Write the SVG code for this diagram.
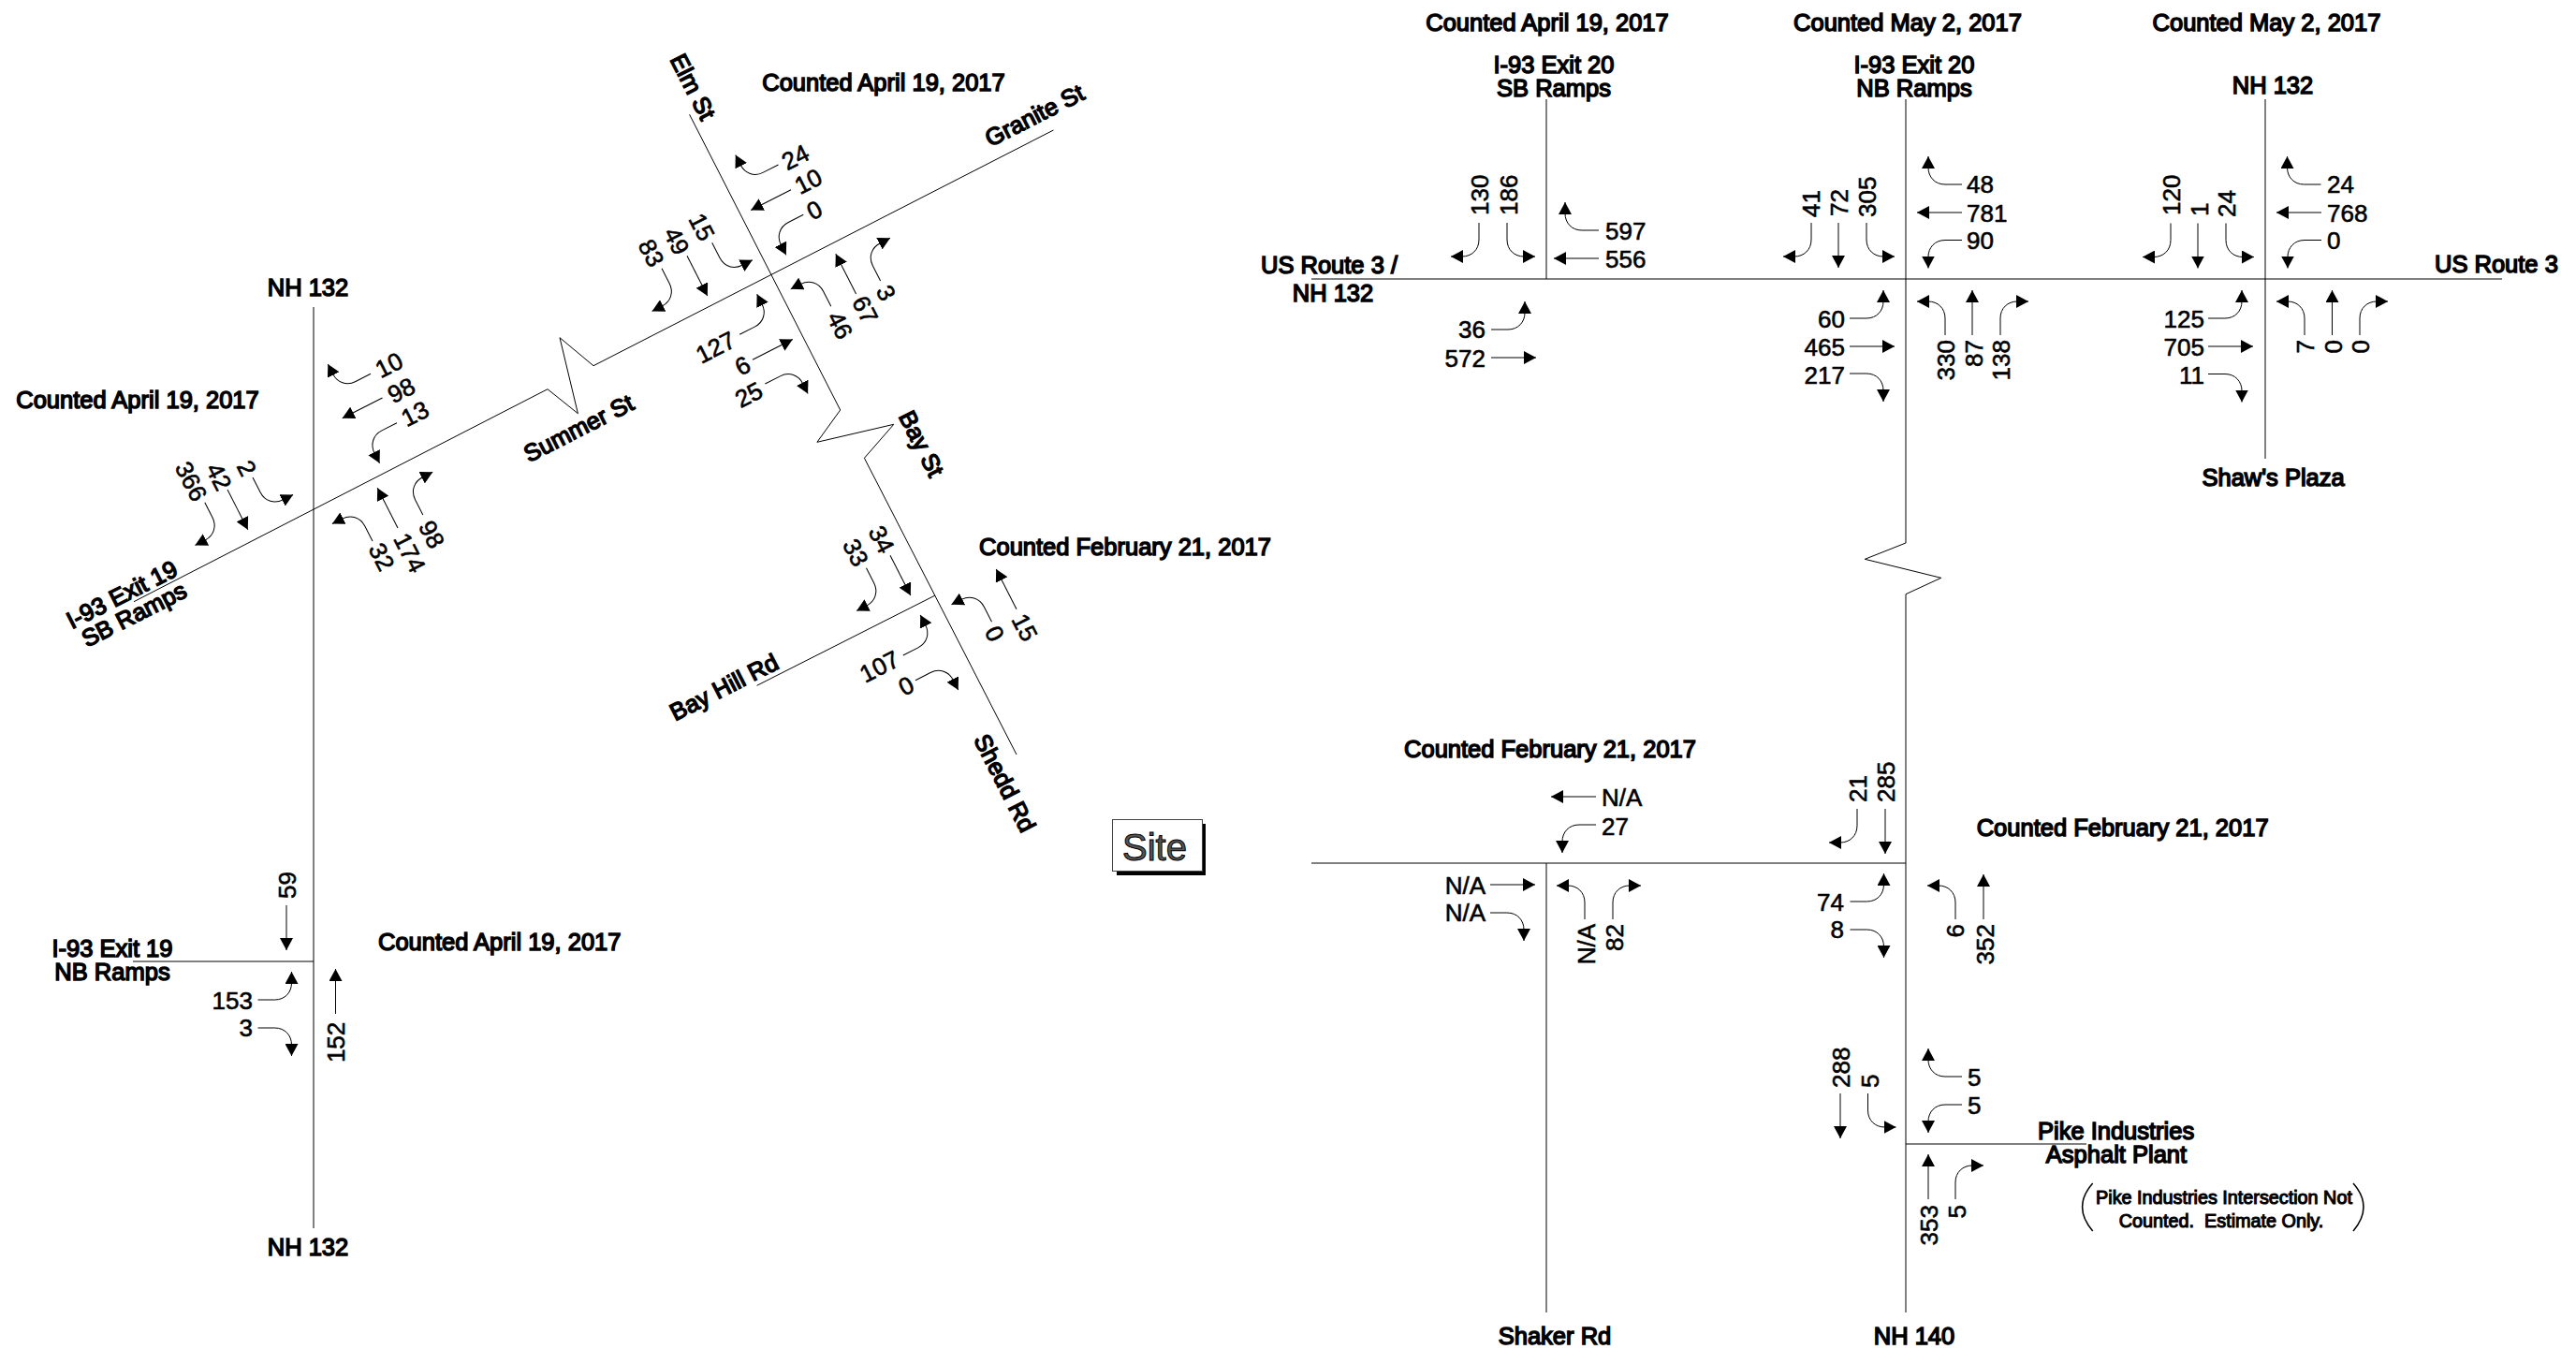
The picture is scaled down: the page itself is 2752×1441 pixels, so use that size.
<svg xmlns="http://www.w3.org/2000/svg" width="2752" height="1441" viewBox="0 0 2752 1441">
<style>
text{font-family:"Liberation Sans",Arial,sans-serif;font-size:26px;fill:#000;stroke:#000;stroke-width:.6px}
text.l{font-size:25.5px;stroke-width:1.5px}
.m{text-anchor:middle}
.e{text-anchor:end}
text.note{font-size:19.8px;stroke-width:1.1px}
.road{fill:none;stroke:#000;stroke-width:1}
.paren{fill:none;stroke:#000;stroke-width:1.5}
.arrow{fill:none;stroke:#000;stroke-width:1;marker-end:url(#h)}
</style>
<defs>
<marker id="h" markerUnits="userSpaceOnUse" markerWidth="14" markerHeight="14" refX="13" refY="7" orient="auto"><path d="M0 0L13 7L0 14z" fill="#000"/></marker>
<path id="s" class="arrow" d="M0 0V48"/>
<path id="a" class="arrow" d="M0 0V18C0 29-8 36-18 36H-30"/>
<path id="b" class="arrow" d="M0 0V18C0 29 8 36 18 36H30"/>
</defs>
<rect width="2752" height="1441" fill="#fff"/>

<g id="roads">
<path class="road" d="M335 328V1312M142 1027H335"/>
<path class="road" d="M143 642.7L585 415.7L617.4 441.7L598 360.7L634 390.7L1125.4 139"/>
<path class="road" d="M736.6 122.3L897.7 438L872.9 472.3L954.8 453.3L923.4 489.3L1086 806"/>
<path class="road" d="M808.6 732.3L999 636"/>
<path class="road" d="M1401 298H2673M1652 106V298M2420 106V490"/>
<path class="road" d="M2036 106V580L1992.3 597.3L2073.7 617.3L2036 634.7V1402"/>
<path class="road" d="M1401 922H2036M1652 922V1402M2036 1222H2229"/>
</g>

<g id="connectors">
<use href="#a" transform="translate(218.8 536.7) rotate(-27)"/>
<use href="#s" transform="translate(243 523) rotate(-27)"/>
<use href="#b" transform="translate(270 510) rotate(-27)"/>
<use href="#a" transform="translate(396 399.3) rotate(63)"/>
<use href="#s" transform="translate(408.5 425) rotate(63)"/>
<use href="#b" transform="translate(424 451.7) rotate(63)"/>
<use href="#b" transform="translate(398 578) rotate(153)"/>
<use href="#s" transform="translate(425 564) rotate(153)"/>
<use href="#a" transform="translate(451.8 550) rotate(153)"/>

<use href="#a" transform="translate(831.5 176) rotate(63)"/>
<use href="#s" transform="translate(845 202.7) rotate(63)"/>
<use href="#b" transform="translate(858.3 229.3) rotate(63)"/>
<use href="#b" transform="translate(760.7 259.3) rotate(-27)"/>
<use href="#s" transform="translate(734 273.3) rotate(-27)"/>
<use href="#a" transform="translate(707 286.7) rotate(-27)"/>
<use href="#b" transform="translate(790.2 357.3) rotate(-117)"/>
<use href="#s" transform="translate(804 384.3) rotate(-117)"/>
<use href="#a" transform="translate(817.4 410) rotate(-117)"/>
<use href="#b" transform="translate(887.8 327.3) rotate(153)"/>
<use href="#s" transform="translate(914.6 314) rotate(153)"/>
<use href="#a" transform="translate(940.6 300) rotate(153)"/>

<use href="#s" transform="translate(951 593.3) rotate(-27)"/>
<use href="#a" transform="translate(925.5 606.7) rotate(-27)"/>
<use href="#s" transform="translate(1086 650.7) rotate(153)"/>
<use href="#b" transform="translate(1059.5 664.3) rotate(153)"/>
<use href="#b" transform="translate(964.8 700) rotate(-117)"/>
<use href="#a" transform="translate(978 726.7) rotate(-117)"/>

<use href="#s" transform="translate(306 967)"/>
<use href="#b" transform="translate(275.5 1068) rotate(-90)"/>
<use href="#a" transform="translate(275.5 1098) rotate(-90)"/>
<use href="#s" transform="translate(358.5 1083) rotate(180)"/>

<use href="#a" transform="translate(1580 238)"/>
<use href="#b" transform="translate(1610 238)"/>
<use href="#a" transform="translate(1708 246) rotate(90)"/>
<use href="#s" transform="translate(1708 276) rotate(90)"/>
<use href="#b" transform="translate(1593 352) rotate(-90)"/>
<use href="#s" transform="translate(1593 382) rotate(-90)"/>

<use href="#a" transform="translate(1935 238)"/>
<use href="#s" transform="translate(1964 238)"/>
<use href="#b" transform="translate(1994 238)"/>
<use href="#a" transform="translate(2096 197) rotate(90)"/>
<use href="#s" transform="translate(2096 227) rotate(90)"/>
<use href="#b" transform="translate(2096 256.5) rotate(90)"/>
<use href="#b" transform="translate(1976 340) rotate(-90)"/>
<use href="#s" transform="translate(1976 370) rotate(-90)"/>
<use href="#a" transform="translate(1976 399) rotate(-90)"/>
<use href="#b" transform="translate(2078 358) rotate(180)"/>
<use href="#s" transform="translate(2107 358) rotate(180)"/>
<use href="#a" transform="translate(2137 358) rotate(180)"/>

<use href="#a" transform="translate(2319 238.5)"/>
<use href="#s" transform="translate(2348 238.5)"/>
<use href="#b" transform="translate(2378 238.5)"/>
<use href="#a" transform="translate(2479.5 197) rotate(90)"/>
<use href="#s" transform="translate(2480 227) rotate(90)"/>
<use href="#b" transform="translate(2480 256.5) rotate(90)"/>
<use href="#b" transform="translate(2359 340) rotate(-90)"/>
<use href="#s" transform="translate(2359 370) rotate(-90)"/>
<use href="#a" transform="translate(2359 399.5) rotate(-90)"/>
<use href="#b" transform="translate(2462 358) rotate(180)"/>
<use href="#s" transform="translate(2491.5 358) rotate(180)"/>
<use href="#a" transform="translate(2521 358) rotate(180)"/>

<use href="#s" transform="translate(1705 851) rotate(90)"/>
<use href="#b" transform="translate(1705 881) rotate(90)"/>
<use href="#s" transform="translate(1592 945) rotate(-90)"/>
<use href="#a" transform="translate(1592 975) rotate(-90)"/>
<use href="#b" transform="translate(1693 982) rotate(180)"/>
<use href="#a" transform="translate(1723 982) rotate(180)"/>

<use href="#a" transform="translate(1984 864)"/>
<use href="#s" transform="translate(2014 864)"/>
<use href="#b" transform="translate(1976.5 963) rotate(-90)"/>
<use href="#a" transform="translate(1976.5 993) rotate(-90)"/>
<use href="#b" transform="translate(2089 982) rotate(180)"/>
<use href="#s" transform="translate(2119 982) rotate(180)"/>

<use href="#s" transform="translate(1966 1168)"/>
<use href="#b" transform="translate(1995.5 1168)"/>
<use href="#a" transform="translate(2096 1150) rotate(90)"/>
<use href="#b" transform="translate(2096 1180) rotate(90)"/>
<use href="#s" transform="translate(2060 1281) rotate(180)"/>
<use href="#a" transform="translate(2089 1281) rotate(180)"/>
</g>

<g id="exit19-sb">
<text class="l m" x="329" y="316">NH 132</text>
<text class="l m" x="147" y="436">Counted April 19, 2017</text>
<text class="l m" dy=".36em" transform="translate(130 634.7) rotate(-27)">I-93 Exit 19</text>
<text class="l m" dy=".36em" transform="translate(143 656) rotate(-27)">SB Ramps</text>
<text class="l m" dy=".36em" transform="translate(618 457) rotate(-27)">Summer St</text>
<text class="m" dy=".36em" transform="translate(204.5 514) rotate(63)">366</text>
<text class="m" dy=".36em" transform="translate(234.2 509) rotate(63)">42</text>
<text class="m" dy=".36em" transform="translate(264 500) rotate(63)">2</text>
<text class="m" dy=".36em" transform="translate(408 594.7) rotate(63)">32</text>
<text class="m" dy=".36em" transform="translate(438 590.3) rotate(63)">174</text>
<text class="m" dy=".36em" transform="translate(461.5 570.7) rotate(63)">98</text>
<text class="m" dy=".36em" transform="translate(415.4 389.7) rotate(-27)">10</text>
<text class="m" dy=".36em" transform="translate(428.6 416.7) rotate(-27)">98</text>
<text class="m" dy=".36em" transform="translate(443.2 441.7) rotate(-27)">13</text>
</g>

<g id="elm-granite">
<text class="l m" x="944" y="97">Counted April 19, 2017</text>
<text class="l m" dy=".36em" transform="translate(740.5 92.5) rotate(63)">Elm St</text>
<text class="l m" dy=".36em" transform="translate(1105 123) rotate(-27)">Granite St</text>
<text class="l m" dy=".36em" transform="translate(984.7 473.8) rotate(63)">Bay St</text>
<text class="m" dy=".36em" transform="translate(849.5 167.7) rotate(-27)">24</text>
<text class="m" dy=".36em" transform="translate(863.3 193.3) rotate(-27)">10</text>
<text class="m" dy=".36em" transform="translate(870 224) rotate(-27)">0</text>
<text class="m" dy=".36em" transform="translate(750 242.3) rotate(63)">15</text>
<text class="m" dy=".36em" transform="translate(723.2 257.3) rotate(63)">49</text>
<text class="m" dy=".36em" transform="translate(696 270) rotate(63)">83</text>
<text class="m" dy=".36em" transform="translate(764.2 370.7) rotate(-27)">127</text>
<text class="m" dy=".36em" transform="translate(793.3 390.3) rotate(-27)">6</text>
<text class="m" dy=".36em" transform="translate(799.8 421.3) rotate(-27)">25</text>
<text class="m" dy=".36em" transform="translate(897.7 347.3) rotate(63)">46</text>
<text class="m" dy=".36em" transform="translate(924.5 330.7) rotate(63)">67</text>
<text class="m" dy=".36em" transform="translate(947 312.7) rotate(63)">3</text>
</g>

<g id="bay-hill">
<text class="l m" x="1202" y="593">Counted February 21, 2017</text>
<text class="l m" dy=".36em" transform="translate(773.3 733.7) rotate(-27)">Bay Hill Rd</text>
<text class="l m" dy=".36em" transform="translate(1073.8 836.3) rotate(63)">Shedd Rd</text>
<text class="m" dy=".36em" transform="translate(942 576) rotate(63)">34</text>
<text class="m" dy=".36em" transform="translate(914.4 590) rotate(63)">33</text>
<text class="m" dy=".36em" transform="translate(1095 670) rotate(63)">15</text>
<text class="m" dy=".36em" transform="translate(1063 676.7) rotate(63)">0</text>
<text class="m" dy=".36em" transform="translate(939.4 711.7) rotate(-27)">107</text>
<text class="m" dy=".36em" transform="translate(968 732.3) rotate(-27)">0</text>
</g>

<g id="exit19-nb">
<text class="l m" x="120" y="1022">I-93 Exit 19</text>
<text class="l m" x="120" y="1047">NB Ramps</text>
<text class="l" x="404" y="1015">Counted April 19, 2017</text>
<text class="l m" x="329" y="1341">NH 132</text>
<text transform="translate(315.6 960) rotate(-90)">59</text>
<text class="e" x="270" y="1078">153</text>
<text class="e" x="270" y="1107">3</text>
<text class="e" transform="translate(368 1091.7) rotate(-90)">152</text>
</g>

<g id="site">
<rect x="1193" y="880" width="95" height="55" fill="#000"/>
<rect x="1188.5" y="875.5" width="96" height="55" fill="#fff" stroke="#444" stroke-width="1"/>
<text x="1199" y="919" style="font-size:40px;fill:#555;stroke:#000;stroke-width:1">Site</text>
</g>

<g id="exit20-sb">
<text class="l m" x="1653" y="33">Counted April 19, 2017</text>
<text class="l m" x="1660" y="78">I-93 Exit 20</text>
<text class="l m" x="1660" y="103">SB Ramps</text>
<text class="l m" x="1420" y="292">US Route 3 /</text>
<text class="l m" x="1424" y="322">NH 132</text>
<text transform="translate(1590 230) rotate(-90)">130</text>
<text transform="translate(1621 230) rotate(-90)">186</text>
<text x="1715" y="256">597</text>
<text x="1715" y="286">556</text>
<text class="e" x="1587" y="361">36</text>
<text class="e" x="1587" y="392">572</text>
</g>

<g id="exit20-nb">
<text class="l m" x="2038" y="33">Counted May 2, 2017</text>
<text class="l m" x="2045" y="78">I-93 Exit 20</text>
<text class="l m" x="2045" y="103">NB Ramps</text>
<text transform="translate(1944 232) rotate(-90)">41</text>
<text transform="translate(1974 231) rotate(-90)">72</text>
<text transform="translate(2004 232) rotate(-90)">305</text>
<text x="2101" y="206">48</text>
<text x="2101" y="236.5">781</text>
<text x="2101" y="266">90</text>
<text class="e" x="1971" y="350">60</text>
<text class="e" x="1971" y="380">465</text>
<text class="e" x="1971" y="410">217</text>
<text class="e" transform="translate(2088 363) rotate(-90)">330</text>
<text class="e" transform="translate(2118 363) rotate(-90)">87</text>
<text class="e" transform="translate(2147 363) rotate(-90)">138</text>
</g>

<g id="shaws">
<text class="l m" x="2421.5" y="33">Counted May 2, 2017</text>
<text class="l m" x="2428" y="100">NH 132</text>
<text class="l" x="2601" y="291">US Route 3</text>
<text class="l m" x="2428.6" y="519">Shaw's Plaza</text>
<text transform="translate(2329 230) rotate(-90)">120</text>
<text transform="translate(2359 231) rotate(-90)">1</text>
<text transform="translate(2388.4 232) rotate(-90)">24</text>
<text x="2486" y="206">24</text>
<text x="2486" y="236.5">768</text>
<text x="2486" y="266">0</text>
<text class="e" x="2355" y="350">125</text>
<text class="e" x="2355" y="379.5">705</text>
<text class="e" x="2355" y="410">11</text>
<text class="e" transform="translate(2472 363) rotate(-90)">7</text>
<text class="e" transform="translate(2502 363) rotate(-90)">0</text>
<text class="e" transform="translate(2531 363) rotate(-90)">0</text>
</g>

<g id="shaker">
<text class="l m" x="1656" y="809">Counted February 21, 2017</text>
<text class="l m" x="1661" y="1436">Shaker Rd</text>
<text x="1711" y="861">N/A</text>
<text x="1711" y="892">27</text>
<text class="e" x="1587" y="955">N/A</text>
<text class="e" x="1587" y="984">N/A</text>
<text class="e" transform="translate(1703.6 987) rotate(-90)">N/A</text>
<text class="e" transform="translate(1734 987) rotate(-90)">82</text>
</g>

<g id="nh140-south">
<text class="l" x="2111.7" y="893">Counted February 21, 2017</text>
<text transform="translate(1994 857) rotate(-90)">21</text>
<text transform="translate(2023.5 857) rotate(-90)">285</text>
<text class="e" x="1970" y="973">74</text>
<text class="e" x="1970" y="1002">8</text>
<text class="e" transform="translate(2098 987) rotate(-90)">6</text>
<text class="e" transform="translate(2129.6 987) rotate(-90)">352</text>
</g>

<g id="pike">
<text class="l m" x="2260.6" y="1217">Pike Industries</text>
<text class="l m" x="2261" y="1242">Asphalt Plant</text>
<text class="l m note" x="2376" y="1286">Pike Industries Intersection Not</text>
<text class="l m note" x="2373" y="1311" xml:space="preserve">Counted.  Estimate Only.</text>
<path class="paren" d="M2235.7 1264Q2213.5 1289 2235.7 1315M2514 1264Q2536 1289 2514 1315"/>
<text class="l m" x="2045" y="1436">NH 140</text>
<text transform="translate(1976 1162) rotate(-90)">288</text>
<text transform="translate(2007 1162) rotate(-90)">5</text>
<text x="2102" y="1160">5</text>
<text x="2102" y="1190">5</text>
<text class="e" transform="translate(2069.6 1287) rotate(-90)">353</text>
<text class="e" transform="translate(2099.5 1287) rotate(-90)">5</text>
</g>
</svg>
